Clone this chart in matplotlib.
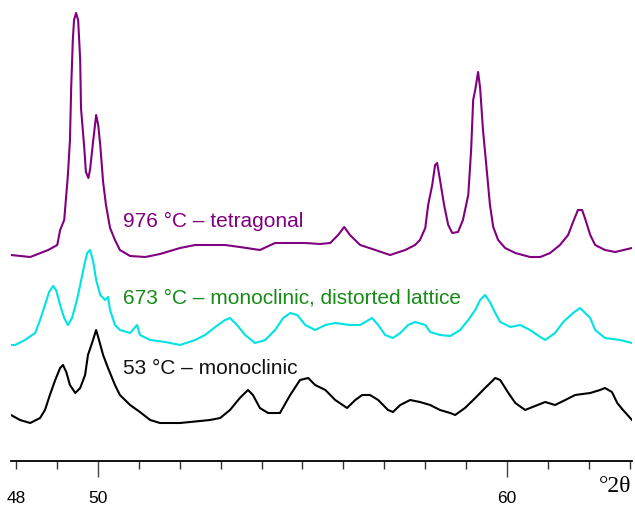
import matplotlib.pyplot as plt
from matplotlib.ticker import MultipleLocator, FixedLocator, FuncFormatter

# 976 °C - tetragonal (purple)
t976 = [47.88, 48.35, 48.79, 49.01, 49.08, 49.18, 49.20, 49.27, 49.32, 49.35, 49.39, 49.42,
        49.47, 49.52, 49.57, 49.59, 49.67, 49.71, 49.77, 49.81, 49.89, 49.96, 50.01, 50.06,
        50.13, 50.20, 50.30, 50.42, 50.54, 50.79, 51.16, 51.52, 52.01, 52.38, 52.87, 53.11,
        53.47, 53.96, 54.33, 54.70, 55.07, 55.43, 55.68, 55.87, 56.02, 56.16, 56.41, 56.78,
        57.14, 57.51, 57.75, 57.87, 58.00, 58.07, 58.17, 58.24, 58.29, 58.36, 58.46, 58.56,
        58.66, 58.80, 58.92, 59.05, 59.12, 59.17, 59.22, 59.29, 59.34, 59.41, 59.49, 59.58,
        59.66, 59.78, 59.95, 60.20, 60.56, 60.81, 61.05, 61.29, 61.49, 61.61, 61.73, 61.83,
        61.90, 62.03, 62.15, 62.39, 62.64, 63.05]
i976 = [5, 3, 10, 15, 30, 40, 50, 85, 120, 172, 220, 240,
        247, 240, 200, 152, 112, 88, 82, 90, 120, 145, 135, 115,
        78, 55, 32, 20, 10, 4, 3, 6, 12, 15, 15, 15,
        13, 10, 17, 17, 17, 16, 17, 25, 33, 25, 15, 10,
        5, 10, 15, 20, 32, 55, 75, 95, 97, 80, 55, 35,
        27, 28, 40, 65, 110, 160, 170, 188, 172, 130, 95, 55,
        33, 20, 12, 7, 3, 3, 7, 15, 25, 38, 50, 50,
        42, 25, 15, 10, 8, 12]

# 673 °C - monoclinic, distorted lattice (cyan)
t673 = [47.88, 47.98, 48.22, 48.47, 48.59, 48.71, 48.81, 48.91, 48.98, 49.08, 49.18, 49.27,
        49.37, 49.49, 49.57, 49.67, 49.74, 49.81, 49.89, 49.96, 50.06, 50.18, 50.25, 50.30,
        50.42, 50.54, 50.79, 50.96, 51.03, 51.28, 51.65, 52.01, 52.38, 52.62, 52.87, 53.11,
        53.23, 53.40, 53.60, 53.84, 54.09, 54.33, 54.53, 54.70, 54.87, 55.07, 55.31, 55.56,
        55.80, 56.16, 56.41, 56.70, 56.85, 57.02, 57.21, 57.39, 57.58, 57.75, 58.00, 58.12,
        58.36, 58.61, 58.85, 59.05, 59.22, 59.34, 59.46, 59.58, 59.71, 59.83, 60.08, 60.32,
        60.56, 60.81, 60.93, 61.17, 61.37, 61.61, 61.78, 62.03, 62.15, 62.39, 62.76, 63.05]
i673 = [5, 5, 10, 17, 30, 45, 58, 64, 60, 45, 32, 25,
        32, 50, 65, 85, 97, 100, 88, 70, 55, 50, 53, 40,
        25, 20, 17, 25, 15, 10, 8, 5, 10, 15, 23, 30,
        32, 25, 15, 7, 10, 20, 32, 37, 35, 25, 20, 25,
        27, 25, 25, 32, 25, 15, 12, 17, 25, 28, 25, 18,
        15, 14, 20, 30, 40, 50, 55, 48, 37, 28, 23, 25,
        20, 13, 10, 17, 28, 37, 42, 32, 20, 12, 10, 7]

# 53 °C - monoclinic (black)
t53 = [47.88, 48.10, 48.35, 48.59, 48.71, 48.83, 48.96, 49.08, 49.15, 49.23, 49.32, 49.45,
       49.57, 49.69, 49.76, 49.86, 49.96, 50.03, 50.13, 50.25, 50.42, 50.54, 50.79, 51.03,
       51.28, 51.52, 52.01, 52.50, 52.74, 52.99, 53.23, 53.47, 53.67, 53.79, 53.96, 54.16,
       54.45, 54.70, 54.94, 55.14, 55.31, 55.56, 55.80, 56.09, 56.29, 56.46, 56.65, 56.85,
       57.09, 57.21, 57.39, 57.63, 57.87, 58.12, 58.36, 58.61, 58.73, 58.97, 59.22, 59.46,
       59.71, 59.83, 60.03, 60.20, 60.44, 60.56, 60.93, 61.17, 61.42, 61.66, 62.03, 62.27,
       62.39, 62.56, 62.69, 62.83, 63.05]
i53 = [10, 5, 2, 7, 15, 30, 45, 57, 60, 53, 40, 32,
       37, 50, 70, 82, 95, 85, 70, 57, 40, 30, 20, 13,
       5, 2, 2, 4, 5, 7, 15, 27, 35, 30, 17, 12,
       12, 30, 45, 47, 40, 35, 25, 17, 25, 30, 30, 25,
       15, 13, 20, 25, 23, 20, 15, 12, 10, 17, 27, 37,
       47, 45, 32, 22, 15, 17, 23, 20, 25, 30, 32, 35,
       37, 33, 22, 15, 5]

offsets = [200.7, 110.7, 35.7]
colors = ["#800080", "#00e3e3", "black"]
labels = ["976 °C – tetragonal", "673 °C – monoclinic, distorted lattice", "53 °C – monoclinic"]
label_colors = ["#800080", "#168c16", "#111111"]
label_y = [239.7, 162.7, 91.7]

fig = plt.figure(figsize=(6.35, 5.08), dpi=100)
ax = fig.add_axes([11 / 635, 47.3 / 508, 621 / 635, 460.7 / 508])

series = [(t976, i976), (t673, i673), (t53, i53)]
for (t, i), off, c in zip(series, offsets, colors):
    ax.plot(t, [v + off for v in i], color=c, lw=1.5)

for lab, c, y in zip(labels, label_colors, label_y):
    ax.text(50.62, y, lab, color=c, fontsize=15, family="Liberation Sans", va="center")

ax.set_xlim(47.88, 63.05)
ax.set_ylim(0, 460.7)
for s in ["top", "right", "left"]:
    ax.spines[s].set_visible(False)
ax.spines["bottom"].set_linewidth(1.3)
ax.set_yticks([])

ax.xaxis.set_major_locator(FixedLocator([50, 60]))
ax.xaxis.set_minor_locator(MultipleLocator(1))
ax.xaxis.set_minor_formatter(FuncFormatter(lambda v, p: "48" if abs(v - 48) < 0.01 else ""))
ax.tick_params(axis="x", which="major", length=11.5, width=1, color="#444444",
               labelsize=12.5, pad=10.5)
ax.tick_params(axis="x", which="minor", length=6, width=1, color="#333333",
               labelsize=12.5, pad=16)
for lbl in ax.get_xticklabels(which="both"):
    lbl.set_family("Liberation Sans")

fig.text(631 / 635, 1 - 487 / 508, "°2θ", fontsize=17, family="Liberation Serif",
         ha="right", va="center")

fig.savefig("out.png", dpi=100)
